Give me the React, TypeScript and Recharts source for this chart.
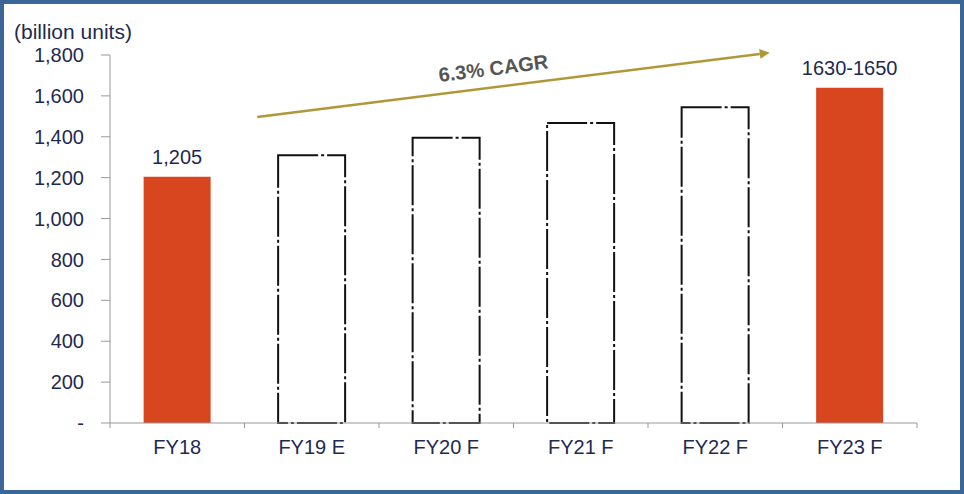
import { Bar, BarChart, Cell, LabelList, ReferenceLine, XAxis, YAxis } from 'recharts';

const categories = ["FY18", "FY19 E", "FY20 F", "FY21 F", "FY22 F", "FY23 F"];
const values = [1205, 1310, 1395, 1468, 1545, 1640];
const barLabels = ["1,205", "", "", "", "", "1630-1650"];
const actual = [true, false, false, false, false, true];
const yTicks = [0, 200, 400, 600, 800, 1000, 1200, 1400, 1600, 1800];

// CAGR arrow anchored on two bars, stretched a bit past them when drawn
const cagrStart = { x: "FY19 E", y: 1530 };
const cagrEnd = { x: "FY22 F", y: 1778 };
const cagrText = "6.3% CAGR";

const data = categories.map((name, i) => ({ name, value: values[i], label: barLabels[i] }));

const orange = "#d7461f";
const navy = "#1e2a52";
const gold = "#b0983a";
const axisGrey = "#999";
const font = "'Liberation Sans', Arial, sans-serif";

const X_TICK_MARGIN = 16;

const fmtY = (v: number) => (v === 0 ? "-" : v.toLocaleString("en-US"));

const CategoryTick = (props: any) => {
    const { x, y, payload, index, visibleTicksCount } = props;
    const half = payload.offset || 67;
    const axisY = y - X_TICK_MARGIN;
    const last = index === visibleTicksCount - 1;
    return (
        <g>
            <line x1={x - half} y1={axisY} x2={x - half} y2={axisY + 5} stroke={axisGrey} />
            {last && <line x1={x + half} y1={axisY} x2={x + half} y2={axisY + 5} stroke={axisGrey} />}
            <text x={x} y={y} dy="0.75em" textAnchor="middle" fill={navy} fontSize={20} fontFamily={font}>
                {payload.value}
            </text>
        </g>
    );
};

const Arrow = (props: any) => {
    const { x1: ax, y1: ay, x2: bx0, y2: by0 } = props;
    const ext = 0.135;
    const x1 = ax - (bx0 - ax) * ext;
    const y1 = ay - (by0 - ay) * ext;
    const x2 = bx0 + (bx0 - ax) * ext;
    const y2 = by0 + (by0 - ay) * ext;
    const ang = Math.atan2(y2 - y1, x2 - x1);
    const len = 10;
    const w = 5;
    const bx = x2 - len * Math.cos(ang);
    const by = y2 - len * Math.sin(ang);
    const px = -Math.sin(ang) * w;
    const py = Math.cos(ang) * w;
    const mx = (x1 + x2) / 2;
    const my = (y1 + y2) / 2;
    const deg = (ang * 180) / Math.PI;
    return (
        <g>
            <line x1={x1} y1={y1} x2={bx} y2={by} stroke={gold} strokeWidth={2.5} />
            <polygon points={`${x2},${y2} ${bx + px},${by + py} ${bx - px},${by - py}`} fill={gold} />
            <text
                x={mx}
                y={my}
                dx={-18}
                dy={-12}
                textAnchor="middle"
                transform={`rotate(${deg} ${mx} ${my})`}
                fill="#555"
                fontSize={20}
                fontWeight="bold"
                fontFamily={font}
            >
                {cagrText}
            </text>
        </g>
    );
};

const App = () => {
    return (
        <div style={{ position: 'fixed', left: 0, top: 0, width: 964, height: 494, background: '#fff' }}>
            <div
                style={{
                    position: 'absolute', left: 14, top: 20, fontFamily: font, fontSize: 21, color: navy,
                }}
            >
                (billion units)
            </div>
            <BarChart
                width={964}
                height={494}
                data={data}
                margin={{ top: 55, right: 47, left: 0, bottom: 40 }}
                barCategoryGap="25%"
            >
                <XAxis
                    dataKey="name"
                    height={31}
                    stroke={axisGrey}
                    tickLine={false}
                    tickSize={0}
                    tickMargin={X_TICK_MARGIN}
                    tick={<CategoryTick />}
                />
                <YAxis
                    width={110}
                    domain={[0, 1800]}
                    ticks={yTicks}
                    tickFormatter={fmtY}
                    tickSize={9}
                    tickMargin={17}
                    stroke={axisGrey}
                    tick={{ fill: navy, fontSize: 20, fontFamily: font }}
                />
                <Bar dataKey="value" isAnimationActive={false}>
                    {data.map((d, i) => (
                        <Cell
                            key={d.name}
                            fill={actual[i] ? orange : "#fff"}
                            stroke={actual[i] ? "none" : "#111"}
                            strokeWidth={2}
                            strokeDasharray={actual[i] ? undefined : "40 3 3 3"}
                        />
                    ))}
                    <LabelList dataKey="label" position="top" offset={13} fill={navy} fontSize={20} fontFamily={font} />
                </Bar>
                <ReferenceLine segment={[cagrStart, cagrEnd]} ifOverflow="visible" shape={Arrow} />
            </BarChart>
            <div
                style={{
                    position: 'absolute', left: 0, top: 0, width: 964, height: 494, boxSizing: 'border-box',
                    border: '4px solid #3c6598', pointerEvents: 'none',
                }}
            />
        </div>
    );
};

export default App;
